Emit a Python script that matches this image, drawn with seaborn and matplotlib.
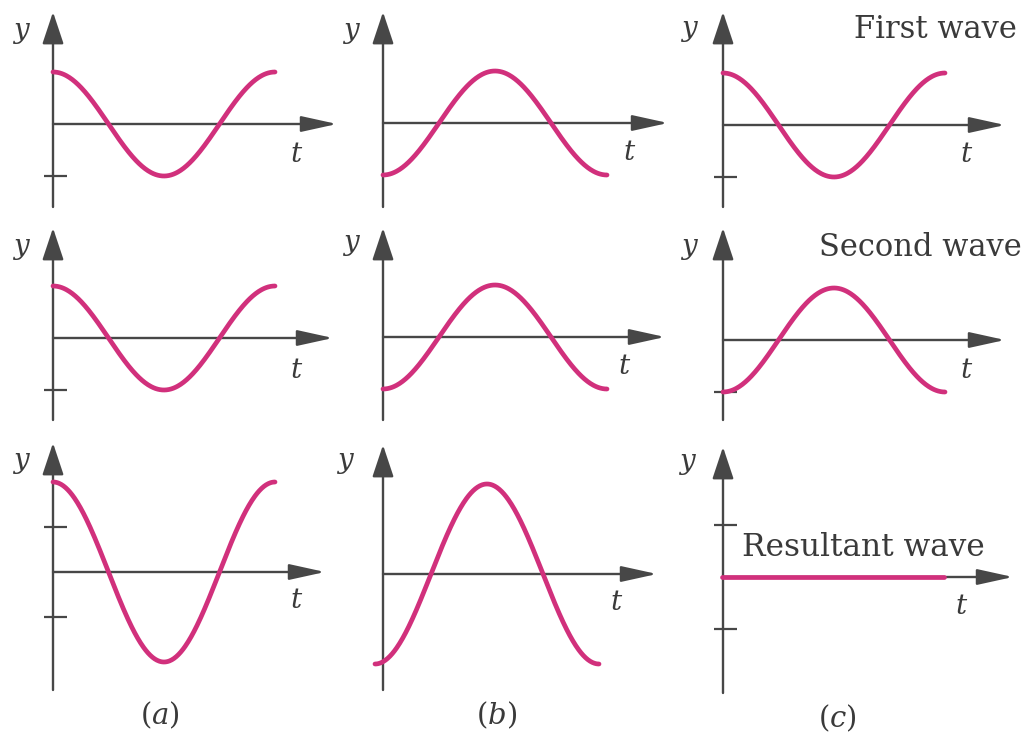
import numpy as np
import pandas as pd
import matplotlib
matplotlib.use("Agg")
import matplotlib.pyplot as plt
import seaborn as sns

sns.set_theme(style="white")
plt.rcParams["font.family"] = ["DejaVu Serif"]
plt.rcParams["mathtext.fontset"] = "dejavuserif"

# ---- data: superposition of two waves, one column per case ----
columns = ["(a)", "(b)", "(c)"]
row_titles = ["First wave", "Second wave", "Resultant wave"]
# amplitude of each wave in tick units (negative = starts at a trough)
first_amp = [1.0, -1.0, 1.0]
second_amp = [1.0, -1.0, -1.0]
periods_shown = 1.0

resultant_amp = [a + b for a, b in zip(first_amp, second_amp)]
amps = [first_amp, second_amp, resultant_amp]

# ---- layout (pixel geometry of each panel) ----
W, H = 1032, 734
CURVE = "#d1307c"
AXIS = "#474747"
TEXT = "#3a3a3a"

col_block = [(0, 344), (344, 680), (680, 1032)]
row_block = [(0, 215), (215, 435), (435, 734)]
# y-axis x position, curve origin x, pixels per period
col_axis_x = [53, 383, 723]
col_curve_x = [[53, 383, 723], [53, 383, 723], [53, 375, 722]]
col_period_px = [222, 224, 222]
# zero line y, pixels per amplitude unit
zero_y = [[124, 123, 125], [338, 337, 340], [572, 574, 577]]
unit_px = [[52, 52, 52], [52, 52, 52], [45, 45, 52]]
axis_top = [[12, 12, 12], [228, 228, 228], [443, 445, 447]]
axis_bottom = [[207, 207, 207], [420, 420, 420], [690, 690, 693]]
arrow_tip = [[337, 668, 1005], [333, 665, 1005], [325, 657, 1013]]
ticks = [[[-1], [], [-1]], [[-1], [], [-1]], [[-1, 1], [], [-1, 1]]]

y_lab = [[(22, 33), (352, 33), (690, 30)],
         [(22, 248), (352, 245), (690, 248)],
         [(22, 462), (345, 462), (688, 463)]]
t_lab = [[(297, 155), (630, 152), (967, 155)],
         [(297, 370), (625, 367), (967, 370)],
         [(297, 600), (617, 603), (962, 607)]]
col_lab = [(160, 715), (497, 715), (837, 718)]

fig = plt.figure(figsize=(W / 100, H / 100), dpi=100)
fig.patch.set_facecolor("white")

t = np.linspace(0, periods_shown, 300)

for r in range(3):
    for c in range(3):
        L, R = col_block[c]
        T, B = row_block[r]
        ox = col_curve_x[r][c]
        oy = zero_y[r][c]
        pt = col_period_px[c]
        pu = unit_px[r][c]
        ax = fig.add_axes([L / W, 1 - B / H, (R - L) / W, (B - T) / H])
        ax.set_xlim((L - ox) / pt, (R - ox) / pt)
        ax.set_ylim((oy - B) / pu, (oy - T) / pu)
        ax.axis("off")

        def px2x(px):
            return (px - ox) / pt

        def px2y(py):
            return (oy - py) / pu

        ax0 = px2x(col_axis_x[c])
        # axes with arrow heads
        arrow = dict(arrowstyle="-|>,head_length=1.0,head_width=0.22",
                     lw=1.7, color=AXIS, mutation_scale=22,
                     shrinkA=0, shrinkB=0)
        ax.annotate("", xy=(px2x(arrow_tip[r][c]), 0), xytext=(ax0, 0),
                    arrowprops=arrow, annotation_clip=False)
        arrow_v = dict(arrow, arrowstyle="-|>,head_length=0.9,head_width=0.3")
        ax.annotate("", xy=(ax0, px2y(axis_top[r][c])),
                    xytext=(ax0, px2y(axis_bottom[r][c])),
                    arrowprops=arrow_v, annotation_clip=False)
        for tk in ticks[r][c]:
            ax.plot([px2x(col_axis_x[c] - 9), px2x(col_axis_x[c] + 14)],
                    [tk, tk], color=AXIS, lw=1.6, solid_capstyle="butt")

        df = pd.DataFrame({"t": t, "y": amps[r][c] * np.cos(2 * np.pi * t)})
        sns.lineplot(data=df, x="t", y="y", ax=ax, color=CURVE, lw=3.4,
                     sort=False, estimator=None, zorder=3)
        ax.axis("off")

        yx, yy = y_lab[r][c]
        fig.text(yx / W, 1 - yy / H, r"$y$", fontsize=20, color=TEXT,
                 ha="center", va="center")
        tx, ty = t_lab[r][c]
        fig.text(tx / W, 1 - ty / H, r"$t$", fontsize=20, color=TEXT,
                 ha="center", va="center")

fig.text(1017 / W, 1 - 30 / H, row_titles[0], fontsize=22, color=TEXT,
         ha="right", va="center")
fig.text(1022 / W, 1 - 247 / H, row_titles[1], fontsize=22, color=TEXT,
         ha="right", va="center")
fig.text(742 / W, 1 - 547 / H, row_titles[2], fontsize=22.5, color=TEXT,
         ha="left", va="center")

for (lx, ly), name in zip(col_lab, columns):
    fig.text(lx / W, 1 - ly / H, "$(" + name[1] + ")$", fontsize=21,
             color=TEXT, ha="center", va="center")

fig.savefig("out.png", dpi=100, facecolor="white")
